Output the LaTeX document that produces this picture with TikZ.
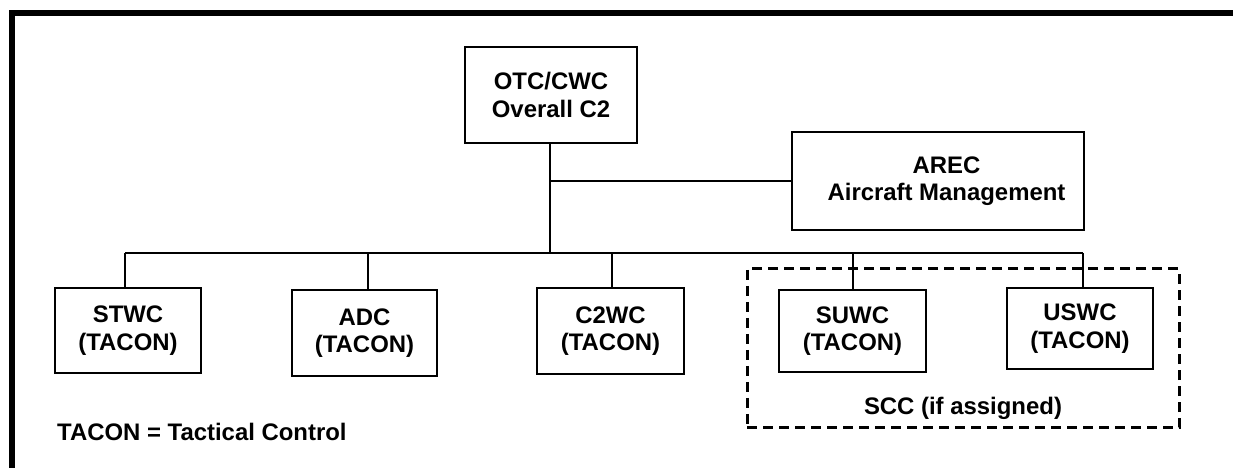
\documentclass[tikz,border=0pt]{standalone}
\usepackage{fontspec}
\setmainfont{Liberation Sans}
\begin{document}
\begin{tikzpicture}[x=1bp,y=-1bp,
  box/.style={draw,line width=1.8bp,rectangle,inner sep=0pt,align=center,
    font=\fontsize{24}{27.5}\selectfont\bfseries},
  conn/.style={line width=1.2bp},
  lbl/.style={inner sep=0pt,font=\fontsize{24}{27.5}\selectfont\bfseries}]
\useasboundingbox (0,0) rectangle (1233,468);
% outer frame (cropped)
\draw[line width=6bp,line join=miter] (12,468) -- (12,13) -- (1233,13);
% nodes
\node[box,minimum width=172bp,minimum height=96bp] (otc) at (551,95) {OTC/CWC\\Overall C2};
\node[box,minimum width=292bp,minimum height=98bp] (arec) at (938,181) {\hspace*{17bp}AREC\\\hspace*{17bp}Aircraft Management};
\node[box,minimum width=146bp,minimum height=85bp] (stwc) at (128,330.5) {STWC\\(TACON)};
\node[box,minimum width=145bp,minimum height=86bp] (adc) at (364.5,333) {ADC\\(TACON)};
\node[box,minimum width=147bp,minimum height=86bp] (c2wc) at (610.5,331) {C2WC\\(TACON)};
\node[box,minimum width=147bp,minimum height=82bp] (suwc) at (852.5,331) {SUWC\\(TACON)};
\node[box,minimum width=146bp,minimum height=81bp] (uswc) at (1080,328.5) {USWC\\(TACON)};
% SCC dashed group
\node[draw,dash pattern=on 10bp off 6bp,line width=3bp,inner sep=0pt,
  minimum width=432bp,minimum height=159bp] (scc) at (963,348.5) {};
\node[lbl] (scclbl) at (963,408) {SCC (if assigned)};
\node[lbl,anchor=west] (note) at (57,432) {TACON = Tactical Control};
% connector points
\coordinate (j) at (550,253);
\coordinate (aj) at (550,181);
\coordinate (busL) at (125,253);
\coordinate (busR) at (1083,253);
\coordinate (badc) at (368,253);
\coordinate (bc2) at (612,253);
\coordinate (bsu) at (853,253);
% connectors
\draw[conn] (otc.south -| j) -- (j);
\draw[conn] (aj) -- (arec.west);
\draw[conn] (busL) -- (busR);
\draw[conn] (busL) -- (busL |- stwc.north);
\draw[conn] (badc) -- (badc |- adc.north);
\draw[conn] (bc2) -- (bc2 |- c2wc.north);
\draw[conn] (bsu) -- (bsu |- suwc.north);
\draw[conn] (busR) -- (busR |- uswc.north);
\end{tikzpicture}
\end{document}
